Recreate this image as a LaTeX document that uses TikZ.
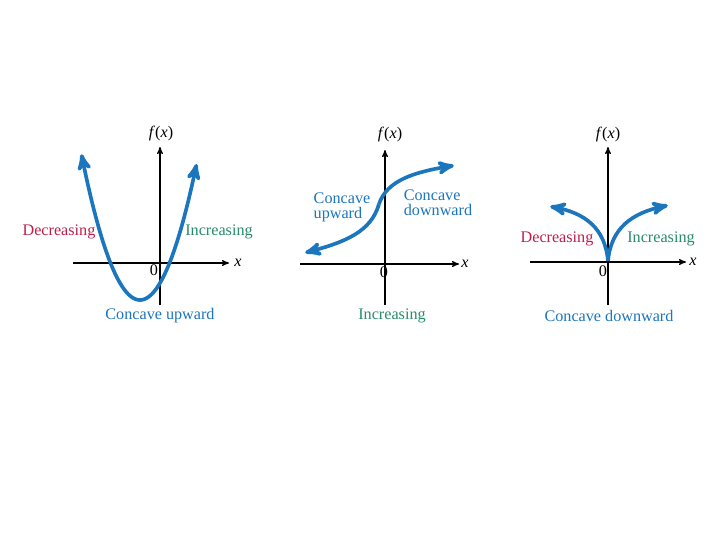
\documentclass[tikz,border=0pt]{standalone}
\usepackage{fontspec}
\setmainfont{Liberation Serif}
\usepackage{tikz}
\usetikzlibrary{arrows}

\definecolor{curveblue}{RGB}{28,118,190}
\definecolor{decred}{RGB}{190,30,75}
\definecolor{incgreen}{RGB}{40,140,105}

\tikzset{
  axis/.style={draw=black, line width=0.8pt, -stealth'},
  curve/.style={draw=curveblue, line width=2.6pt, -stealth', shorten >=-2pt},
  lbl/.style={font=\fontsize{11.5}{10.5}\selectfont, inner sep=0pt},
  dec/.style={lbl, text=decred},
  inc/.style={lbl, text=incgreen},
  conc/.style={lbl, text=curveblue, align=left},
}

\begin{document}
\begin{tikzpicture}[x=0.025cm, y=-0.025cm]
 \useasboundingbox[fill=white] (0,0) rectangle (720,540);

 % first graph
 \coordinate (xa1) at (73,263);  \coordinate (xb1) at (229,263);
 \coordinate (ya1) at (160,305); \coordinate (yb1) at (160,147);
 \path[axis] (xa1) -- (xb1);
 \path[axis] (ya1) -- (yb1);
 \node[lbl, anchor=west] (x1) at (234,263) {\textit{x}};
 \node[lbl] (f1) at (161,134) {\textit{f}(\textit{x})};
 \node[lbl] (z1) at (154,270) {0};
 \draw[curve] plot[domain=140:82, samples=40] ({\x},{300-0.0425*(\x-140)^2});
 \draw[curve] plot[domain=140:196, samples=40] ({\x},{300-0.0425*(\x-140)^2});
 \node[dec] (dec1) at (59,232) {Decreasing};
 \node[inc] (inc1) at (219,232) {Increasing};
 \node[conc] (up1) at (160,316) {Concave upward};

 % second graph
 \coordinate (xa2) at (300,264); \coordinate (xb2) at (459,264);
 \coordinate (ya2) at (385,305); \coordinate (yb2) at (385,150);
 \path[axis] (xa2) -- (xb2);
 \path[axis] (ya2) -- (yb2);
 \node[lbl, anchor=west] (x2) at (461,264) {\textit{x}};
 \node[lbl] (f2) at (390,135) {\textit{f}(\textit{x})};
 \node[lbl] (z2) at (384,272) {0};
 \draw[curve] (379,204) .. controls (371,232) and (345,242) .. (308,252);
 \draw[curve] (379,204) .. controls (387,180) and (415,172) .. (451,166);
 \node[conc] (up2) at (342,207) {Concave\\upward};
 \node[conc] (down2) at (438,203) {Concave\\downward};
 \node[inc] (inc2) at (392,316) {Increasing};

 % third graph
 \coordinate (xa3) at (530,262); \coordinate (xb3) at (686,262);
 \coordinate (ya3) at (608,305); \coordinate (yb3) at (608,147);
 \path[axis] (xa3) -- (xb3);
 \path[axis] (ya3) -- (yb3);
 \node[lbl, anchor=west] (x3) at (689,262) {\textit{x}};
 \node[lbl] (f3) at (608,135) {\textit{f}(\textit{x})};
 \node[lbl] (z3) at (603,271) {0};
 \draw[curve] (608,261) .. controls (605,228) and (585,213) .. (553,207);
 \draw[curve] (608,261) .. controls (611,228) and (632,213) .. (665,206);
 \node[dec] (dec3) at (557,239) {Decreasing};
 \node[inc] (inc3) at (661,239) {Increasing};
 \node[conc] (down3) at (609,316) {Concave downward};
\end{tikzpicture}
\end{document}
